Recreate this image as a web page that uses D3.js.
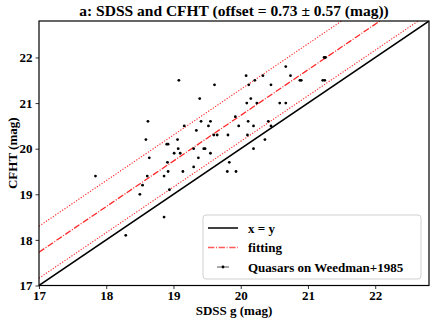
<!DOCTYPE html>
<html>
<head>
<meta charset="utf-8">
<script src="https://cdn.jsdelivr.net/npm/d3@7"></script>
<style>
  body { margin: 0; background: #fff; }
  text { font-family: "Liberation Serif", "Times New Roman", serif; font-weight: bold; fill: #000; }
</style>
</head>
<body>
<div id="vis"></div>
<script>
// data
const sdssG = [17.84, 18.29, 18.50, 18.54, 18.61, 18.62, 18.59, 18.64, 18.86, 18.86,
  18.92, 18.94, 18.90, 18.92, 18.91, 19.01, 19.06, 19.07, 19.10, 19.08,
  19.14, 19.16, 19.30, 19.30, 19.34, 19.37, 19.39, 19.41, 19.45, 19.47,
  19.52, 19.55, 19.55, 19.60, 19.65, 19.61, 19.80, 19.81, 19.83, 19.92,
  19.93, 19.97, 20.08, 20.09, 20.10, 20.11, 20.12, 20.15, 20.19, 20.19,
  20.21, 20.24, 20.33, 20.36, 20.41, 20.45, 20.45, 20.58, 20.67, 20.67,
  20.74, 20.88, 20.90, 21.22, 21.25, 21.24, 21.26];
const cfht = [19.4, 18.1, 19.0, 19.2, 19.4, 20.6, 20.2, 19.8, 19.4, 18.5,
  19.5, 19.1, 20.1, 20.1, 19.7, 19.9, 20.2, 20.0, 19.9, 21.5,
  19.5, 20.5, 20.0, 19.6, 20.4, 19.8, 21.1, 20.6, 20.0, 20.0,
  20.5, 20.6, 19.9, 20.3, 20.3, 21.4, 19.5, 20.3, 19.7, 20.7,
  19.5, 20.5, 21.6, 21.0, 20.3, 20.6, 21.4, 21.1, 20.5, 20.0,
  21.5, 21.0, 21.6, 20.2, 20.6, 20.5, 21.4, 21.0, 21.0, 21.8,
  21.6, 21.5, 21.5, 21.5, 21.5, 22.0, 22.0];
const offset = 0.73;
const scatter = 0.57;
const axisMin = 17, axisMax = 22.8;
const ticks = [17, 18, 19, 20, 21, 22];
const legendLabels = ["x = y", "fitting", "Quasars on Weedman+1985"];

const margin = { top: 21, right: 7, bottom: 38.5, left: 39 };
const W = 436, H = 324;
const width = W - margin.left - margin.right;
const height = H - margin.top - margin.bottom;

const svg = d3.select('#vis').append('svg')
  .attr('width', W).attr('height', H);

const g = svg.append('g')
  .attr('transform', `translate(${margin.left},${margin.top})`);

const x = d3.scaleLinear().domain([axisMin, axisMax]).range([0, width]);
const y = d3.scaleLinear().domain([axisMin, axisMax]).range([height, 0]);

svg.append('defs').append('clipPath').attr('id', 'clip')
  .append('rect').attr('width', width).attr('height', height);

const plot = g.append('g').attr('clip-path', 'url(#clip)');

const line = d3.line().x(d => x(d[0])).y(d => y(d[1]));
const ends = [axisMin, axisMax];

// x = y
plot.append('path')
  .datum(ends.map(v => [v, v]))
  .attr('d', line)
  .attr('fill', 'none').attr('stroke', '#000').attr('stroke-width', 1.5);

// fitting and +/- scatter
const fitLines = [
  { off: offset, dash: '6.4,1.6,1,1.6', w: 1.3 },
  { off: offset + scatter, dash: '1.2,1.6', w: 1.1 },
  { off: offset - scatter, dash: '1.2,1.6', w: 1.1 }
];
plot.selectAll('.fit')
  .data(fitLines)
  .join('path')
  .attr('class', 'fit')
  .attr('d', d => line(ends.map(v => [v, v + d.off])))
  .attr('fill', 'none')
  .attr('stroke', '#ff0000')
  .attr('stroke-opacity', 0.85)
  .attr('stroke-width', d => d.w)
  .attr('stroke-dasharray', d => d.dash);

// quasars
plot.selectAll('.pt')
  .data(sdssG.map((v, i) => [v, cfht[i]]))
  .join('circle')
  .attr('class', 'pt')
  .attr('cx', d => x(d[0]))
  .attr('cy', d => y(d[1]))
  .attr('r', 1.4)
  .attr('fill', '#000');

// axes
const xAxis = g.append('g')
  .attr('transform', `translate(0,${height})`)
  .call(d3.axisBottom(x).tickValues(ticks).tickSize(3.5).tickPadding(2).tickFormat(d3.format('d')));
const yAxis = g.append('g')
  .call(d3.axisLeft(y).tickValues(ticks).tickSize(3.5).tickPadding(3).tickFormat(d3.format('d')));
[xAxis, yAxis].forEach(a => {
  a.select('.domain').remove();
  a.selectAll('.tick line').attr('stroke', '#000').attr('stroke-width', 0.8);
  a.selectAll('.tick text').style('font-size', '13px')
    .style('font-family', '"Liberation Serif", serif').style('font-weight', 'bold');
});

// frame
g.append('rect')
  .attr('width', width).attr('height', height)
  .attr('fill', 'none').attr('stroke', '#000').attr('stroke-width', 1.2);

// title and labels
svg.append('text')
  .attr('x', margin.left + width / 2).attr('y', 16)
  .attr('text-anchor', 'middle')
  .style('font-size', '15.5px')
  .text(`a: SDSS and CFHT (offset = ${offset} ± ${scatter} (mag))`);

svg.append('text')
  .attr('x', margin.left + width / 2).attr('y', 315)
  .attr('text-anchor', 'middle')
  .style('font-size', '13px')
  .text('SDSS g (mag)');

svg.append('text')
  .attr('transform', `translate(17,${margin.top + height / 2}) rotate(-90)`)
  .attr('text-anchor', 'middle')
  .style('font-size', '13px')
  .text('CFHT (mag)');

// legend
const leg = svg.append('g').attr('transform', 'translate(203,215)');
leg.append('rect')
  .attr('width', 218).attr('height', 64)
  .attr('rx', 3)
  .attr('fill', '#fff').attr('fill-opacity', 0.8)
  .attr('stroke', '#d0d0d0').attr('stroke-width', 1);

const rows = leg.selectAll('.row')
  .data(legendLabels)
  .join('g')
  .attr('class', 'row')
  .attr('transform', (d, i) => `translate(0,${13 + i * 19.5})`);

rows.append('text')
  .attr('x', 45).attr('y', 4.5)
  .style('font-size', '13px')
  .text(d => d);

rows.filter((d, i) => i === 0).append('line')
  .attr('x1', 5).attr('x2', 35)
  .attr('stroke', '#000').attr('stroke-width', 1.5);
rows.filter((d, i) => i === 1).append('line')
  .attr('x1', 5).attr('x2', 35)
  .attr('stroke', '#ff0000').attr('stroke-opacity', 0.65)
  .attr('stroke-width', 1.3).attr('stroke-dasharray', '6.4,1.6,1,1.6');
const q = rows.filter((d, i) => i === 2);
q.append('line')
  .attr('x1', 14).attr('x2', 26)
  .attr('stroke', '#555').attr('stroke-width', 1);
q.append('circle')
  .attr('cx', 20).attr('r', 1.4).attr('fill', '#000');
</script>
</body>
</html>
